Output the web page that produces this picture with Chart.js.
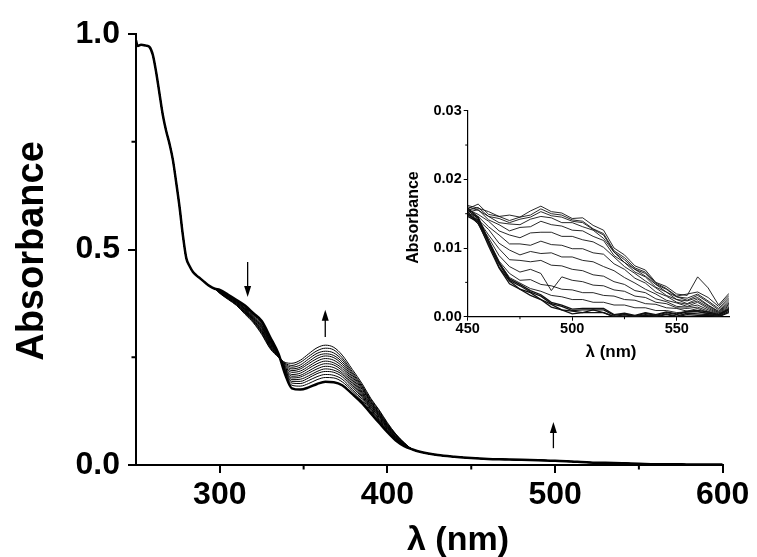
<!DOCTYPE html>
<html>
  <head>
    <title>Absorbance spectra</title>
    <script src="https://cdn.jsdelivr.net/npm/chart.js@4.4.0/dist/chart.umd.min.js"></script>
    <style>
      html, body { margin: 0; padding: 0; background: #fff; }
      #wrap { position: relative; width: 757px; height: 557px; }
      #mainChart { position: absolute; left: 0; top: 0; }
      #insetChart { position: absolute; left: 400px; top: 95px; }
    </style>
  </head>

  <body>
    <div id="wrap">
      <canvas id="mainChart" width="757" height="557"></canvas>
      <canvas id="insetChart" width="345" height="275"></canvas>
    </div>
    <script>
      // main spectra: shared start, per-spectrum middle, shared tail
      const headNm = [250, 251, 253, 256, 258, 260, 262, 264, 266, 268, 270, 272, 274, 276, 278, 280, 282, 284, 286, 288, 291, 294, 297];
      const headAbs = [0.985, 0.972, 0.975, 0.973, 0.970, 0.952, 0.912, 0.862, 0.812, 0.775, 0.745, 0.708, 0.655, 0.598, 0.532, 0.480, 0.461, 0.448, 0.440, 0.434, 0.424, 0.415, 0.409];

      const midNm = [300, 305, 310, 315, 320, 325, 330, 335, 339, 343, 348, 353, 358, 363, 368, 373, 379, 385, 390, 395, 400, 405, 410];
      const spec01 = [0.406,0.395,0.383,0.370,0.352,0.334,0.297,0.258,0.210,0.178,0.175,0.180,0.188,0.193,0.192,0.185,0.165,0.143,0.120,0.098,0.076,0.057,0.044];
      const spec02 = [0.405,0.394,0.381,0.368,0.349,0.330,0.294,0.257,0.213,0.185,0.183,0.189,0.198,0.203,0.202,0.193,0.172,0.148,0.124,0.102,0.079,0.059,0.045];
      const spec03 = [0.404,0.393,0.380,0.366,0.348,0.328,0.292,0.256,0.216,0.190,0.189,0.196,0.205,0.210,0.208,0.199,0.176,0.152,0.127,0.104,0.080,0.060,0.046];
      const spec04 = [0.404,0.392,0.379,0.364,0.346,0.325,0.289,0.256,0.218,0.194,0.194,0.202,0.212,0.217,0.215,0.205,0.181,0.156,0.130,0.106,0.082,0.061,0.046];
      const spec05 = [0.403,0.391,0.378,0.363,0.344,0.323,0.288,0.255,0.220,0.198,0.199,0.207,0.217,0.223,0.220,0.210,0.185,0.159,0.132,0.108,0.084,0.062,0.047];
      const spec06 = [0.403,0.390,0.378,0.362,0.343,0.321,0.286,0.255,0.222,0.202,0.204,0.213,0.223,0.229,0.226,0.214,0.189,0.162,0.135,0.111,0.085,0.063,0.047];
      const spec07 = [0.402,0.390,0.377,0.360,0.341,0.319,0.284,0.254,0.224,0.206,0.208,0.218,0.229,0.235,0.232,0.219,0.193,0.165,0.137,0.113,0.087,0.064,0.048];
      const spec08 = [0.402,0.389,0.376,0.359,0.340,0.317,0.282,0.254,0.226,0.210,0.213,0.224,0.235,0.241,0.237,0.224,0.197,0.168,0.140,0.115,0.088,0.065,0.048];
      const spec09 = [0.401,0.388,0.375,0.357,0.338,0.314,0.280,0.253,0.228,0.215,0.218,0.229,0.241,0.247,0.243,0.229,0.201,0.171,0.142,0.117,0.090,0.066,0.049];
      const spec10 = [0.400,0.387,0.374,0.356,0.337,0.312,0.278,0.252,0.230,0.219,0.223,0.235,0.247,0.253,0.249,0.234,0.205,0.175,0.145,0.119,0.091,0.068,0.050];
      const spec11 = [0.400,0.387,0.373,0.355,0.335,0.310,0.276,0.252,0.232,0.223,0.227,0.240,0.253,0.258,0.254,0.239,0.209,0.178,0.147,0.121,0.093,0.069,0.050];
      const spec12 = [0.399,0.386,0.372,0.353,0.334,0.308,0.274,0.251,0.234,0.227,0.232,0.246,0.259,0.264,0.260,0.244,0.213,0.181,0.149,0.123,0.094,0.070,0.051];
      const spec13 = [0.399,0.385,0.371,0.352,0.332,0.305,0.272,0.251,0.236,0.231,0.238,0.252,0.265,0.271,0.267,0.249,0.217,0.184,0.152,0.126,0.096,0.071,0.051];
      const spec14 = [0.398,0.384,0.370,0.350,0.330,0.303,0.270,0.250,0.238,0.236,0.243,0.258,0.272,0.278,0.273,0.255,0.222,0.188,0.155,0.128,0.098,0.072,0.052];

      const tailNm = [415, 420, 430, 440, 450, 460, 470, 480, 490, 500, 510, 520, 530, 540, 550, 560, 570, 580, 590, 600];
      const tailAbs = [0.036, 0.030, 0.023, 0.019, 0.016, 0.014, 0.013, 0.012, 0.011, 0.010, 0.008, 0.006, 0.005, 0.004, 0.003, 0.002, 0.002, 0.001, 0.001, 0.001];

      // inset spectra, 450-575 nm
      const insetNm = [450,455,460,465,470,475,480,485,490,495,500,505,510,515,520,525,530,535,540,545,550,555,560,565,570,575];
      const insT1 = [0.0162,0.0158,0.0153,0.0146,0.0148,0.0145,0.0154,0.0161,0.0153,0.0151,0.0143,0.0144,0.0133,0.0126,0.0100,0.0090,0.0074,0.0068,0.0050,0.0044,0.0033,0.0031,0.0058,0.0042,0.0017,0.0034];
      const insT2 = [0.0157,0.0164,0.0149,0.0146,0.0140,0.0145,0.0148,0.0157,0.0150,0.0148,0.0141,0.0139,0.0128,0.0121,0.0096,0.0086,0.0071,0.0065,0.0049,0.0041,0.0030,0.0033,0.0036,0.0028,0.0015,0.0031];
      const insT3 = [0.0155,0.0159,0.0146,0.0143,0.0137,0.0142,0.0145,0.0153,0.0147,0.0145,0.0139,0.0137,0.0127,0.0119,0.0094,0.0083,0.0069,0.0063,0.0047,0.0040,0.0029,0.0027,0.0033,0.0023,0.0012,0.0028];
      const insT4 = [0.0160,0.0155,0.0146,0.0137,0.0135,0.0134,0.0142,0.0146,0.0144,0.0137,0.0137,0.0131,0.0126,0.0114,0.0094,0.0079,0.0069,0.0059,0.0047,0.0036,0.0029,0.0024,0.0031,0.0021,0.0010,0.0025];
      const insT5 = [0.0152,0.0156,0.0141,0.0134,0.0125,0.0130,0.0131,0.0139,0.0134,0.0132,0.0126,0.0125,0.0117,0.0111,0.0089,0.0079,0.0065,0.0058,0.0043,0.0036,0.0025,0.0023,0.0028,0.0017,0.0008,0.0022];
      const insT6 = [0.0156,0.0149,0.0139,0.0125,0.0119,0.0115,0.0122,0.0123,0.0123,0.0117,0.0117,0.0112,0.0109,0.0101,0.0087,0.0073,0.0063,0.0052,0.0042,0.0031,0.0025,0.0019,0.0026,0.0016,0.0007,0.0020];
      const insM1 = [0.0150,0.0146,0.0131,0.0119,0.0106,0.0106,0.0104,0.0110,0.0105,0.0104,0.0099,0.0099,0.0093,0.0091,0.0077,0.0069,0.0056,0.0049,0.0036,0.0030,0.0021,0.0018,0.0023,0.0014,0.0006,0.0018];
      const insM2 = [0.0152,0.0141,0.0127,0.0107,0.0097,0.0090,0.0095,0.0092,0.0093,0.0087,0.0087,0.0082,0.0080,0.0073,0.0067,0.0057,0.0049,0.0040,0.0033,0.0024,0.0020,0.0015,0.0021,0.0012,0.0005,0.0016];
      const insM3 = [0.0148,0.0141,0.0119,0.0099,0.0083,0.0082,0.0080,0.0082,0.0075,0.0074,0.0069,0.0067,0.0061,0.0059,0.0051,0.0047,0.0038,0.0035,0.0026,0.0022,0.0015,0.0014,0.0017,0.0010,0.0004,0.0014];
      const insM4 = [0.0150,0.0137,0.0115,0.0089,0.0073,0.0065,0.0069,0.0063,0.0038,0.0058,0.0053,0.0051,0.0046,0.0045,0.0039,0.0037,0.0030,0.0028,0.0021,0.0019,0.0013,0.0012,0.0014,0.0008,0.0003,0.0012];
      const insM5 = [0.0153,0.0135,0.0111,0.0081,0.0063,0.0053,0.0054,0.0047,0.0045,0.0040,0.0039,0.0035,0.0035,0.0031,0.0030,0.0025,0.0024,0.0019,0.0018,0.0013,0.0012,0.0008,0.0012,0.0006,0.0002,0.0011];
      const insM6 = [0.0149,0.0135,0.0105,0.0079,0.0057,0.0049,0.0041,0.0037,0.0031,0.0029,0.0025,0.0025,0.0021,0.0021,0.0017,0.0017,0.0013,0.0013,0.0009,0.0009,0.0006,0.0007,0.0008,0.0004,0.0001,0.0010];
      const insB1 = [0.0155,0.0143,0.0109,0.0077,0.0053,0.0045,0.0036,0.0030,0.0019,0.0015,0.0009,0.0010,0.0010,0.0010,0.0002,0.0004,0.0001,0.0005,0.0002,0.0006,0.0003,0.0007,0.0007,0.0005,0.0002,0.0010];
      const insB2 = [0.0150,0.0139,0.0108,0.0072,0.0052,0.0040,0.0035,0.0025,0.0018,0.0010,0.0008,0.0006,0.0010,0.0006,0.0000,0.0003,0.0000,0.0003,0.0001,0.0004,0.0001,0.0005,0.0004,0.0003,0.0000,0.0008];
      const insB3 = [0.0146,0.0138,0.0103,0.0071,0.0048,0.0040,0.0031,0.0025,0.0014,0.0010,0.0004,0.0006,0.0006,0.0006,0.0000,0.0001,0.0000,0.0002,0.0000,0.0003,0.0000,0.0003,0.0002,0.0002,0.0000,0.0006];
      const insB4 = [0.0158,0.0145,0.0111,0.0079,0.0055,0.0047,0.0038,0.0032,0.0021,0.0017,0.0011,0.0012,0.0012,0.0012,0.0003,0.0005,0.0002,0.0006,0.0003,0.0007,0.0004,0.0008,0.0009,0.0007,0.0003,0.0012];

      // minor tick positions and arrows (wavelength, absorbance from -> to)
      const mainMinorX = [350, 450, 550];
      const mainMinorY = [0.25, 0.75];
      const insetMinorX = [475, 525];
      const insetMinorY = [0.005, 0.015, 0.025];
      const arrows = [
        { nm: 316.6, from: 0.471, to: 0.390 },
        { nm: 362.9, from: 0.297, to: 0.360 },
        { nm: 499, from: 0.039, to: 0.100 },
      ];

      const FONT = '"Liberation Sans", Arial, sans-serif';

      const makeDecor = cfg => ({
        id: 'decor',
        afterDraw(chart) {
          const ctx = chart.ctx, xs = chart.scales.x, ys = chart.scales.y;
          ctx.save();
          ctx.strokeStyle = '#000';
          ctx.fillStyle = '#000';
          ctx.lineWidth = cfg.tickWidth;
          ctx.beginPath();
          cfg.minorX.forEach(v => {
            const px = xs.getPixelForValue(v);
            ctx.moveTo(px, ys.bottom);
            ctx.lineTo(px, ys.bottom + cfg.minorLen);
          });
          cfg.minorY.forEach(v => {
            const py = ys.getPixelForValue(v);
            ctx.moveTo(xs.left, py);
            ctx.lineTo(xs.left - cfg.minorLen, py);
          });
          ctx.stroke();

          (cfg.arrows || []).forEach(a => {
            const px = xs.getPixelForValue(a.nm);
            const y0 = ys.getPixelForValue(a.from), y1 = ys.getPixelForValue(a.to);
            const dir = y1 > y0 ? 1 : -1;
            ctx.lineWidth = 1.3;
            ctx.beginPath();
            ctx.moveTo(px, y0);
            ctx.lineTo(px, y1 - dir * 8);
            ctx.stroke();
            ctx.beginPath();
            ctx.moveTo(px, y1);
            ctx.lineTo(px - 3.5, y1 - dir * 11);
            ctx.lineTo(px + 3.5, y1 - dir * 11);
            ctx.closePath();
            ctx.fill();
          });

          cfg.titles.forEach(t => {
            ctx.save();
            ctx.font = t.font;
            ctx.textAlign = 'center';
            ctx.textBaseline = 'alphabetic';
            ctx.translate(t.x, t.y);
            if (t.vertical) ctx.rotate(-Math.PI / 2);
            ctx.fillText(t.text, 0, 0);
            ctx.restore();
          });
          ctx.restore();
        }
      });

      const toPoints = (nm, abs) => nm.map((x, k) => ({ x: x, y: abs[k] }));

      const allNm = headNm.concat(midNm, tailNm);
      const mainSpectra = [spec01, spec02, spec03, spec04, spec05, spec06, spec07, spec08, spec09, spec10, spec11, spec12, spec13, spec14];

      new Chart(document.getElementById('mainChart'), {
        type: 'line',
        data: {
          datasets: mainSpectra.map((s, i) => ({
            data: toPoints(allNm, headAbs.concat(s, tailAbs)),
            borderColor: '#000',
            borderWidth: i === 0 ? 2.5 : 1,
            pointRadius: 0,
            cubicInterpolationMode: 'monotone',
            fill: false,
          })),
        },
        options: {
          responsive: false,
          animation: false,
          layout: { padding: { left: 0, top: 34, right: 34.3, bottom: 0 } },
          plugins: { legend: { display: false }, tooltip: { enabled: false } },
          scales: {
            x: {
              type: 'linear', min: 250, max: 600,
              afterFit: s => { s.height = 92; },
              ticks: { stepSize: 100, includeBounds: false, color: '#000', padding: 3, maxRotation: 0, autoSkip: false,
                       font: { family: FONT, size: 32, weight: 'bold' } },
              grid: { drawOnChartArea: false, tickLength: 8, color: '#000', lineWidth: 2 },
              border: { color: '#000', width: 2 },
            },
            y: {
              type: 'linear', min: 0, max: 1,
              afterFit: s => { s.width = 136; },
              ticks: { stepSize: 0.5, color: '#000', padding: 8, callback: v => v.toFixed(1),
                       font: { family: FONT, size: 32, weight: 'bold' } },
              grid: { drawOnChartArea: false, tickLength: 8, color: '#000', lineWidth: 2 },
              border: { color: '#000', width: 2 },
            },
          },
        },
        plugins: [makeDecor({
          tickWidth: 2, minorLen: 4.5, minorX: mainMinorX, minorY: mainMinorY, arrows: arrows,
          titles: [
            { text: 'λ (nm)', font: 'bold 34px ' + FONT, x: 458, y: 550 },
            { text: 'Absorbance', font: 'bold 38px ' + FONT, x: 43, y: 251, vertical: true },
          ],
        })],
      });

      const insetSpectra = [insT1, insT2, insT3, insT4, insT5, insT6, insM1, insM2, insM3, insM4, insM5, insM6, insB1, insB2, insB3, insB4];

      new Chart(document.getElementById('insetChart'), {
        type: 'line',
        data: {
          datasets: insetSpectra.map((s, i) => ({
            data: toPoints(insetNm, s),
            borderColor: '#111',
            borderWidth: i >= 12 ? 1.3 : 0.9,
            pointRadius: 0,
            tension: 0,
            fill: false,
          })),
        },
        options: {
          responsive: false,
          animation: false,
          layout: { padding: { left: 0, top: 15.7, right: 16, bottom: 0 } },
          plugins: { legend: { display: false }, tooltip: { enabled: false } },
          scales: {
            x: {
              type: 'linear', min: 450, max: 575,
              afterFit: s => { s.height = 53.3; },
              ticks: { stepSize: 50, includeBounds: false, color: '#000', padding: 0, maxRotation: 0, autoSkip: false,
                       font: { family: FONT, size: 14.5, weight: 'bold' } },
              grid: { drawOnChartArea: false, tickLength: 4, color: '#000', lineWidth: 1 },
              border: { color: '#000', width: 1.2 },
            },
            y: {
              type: 'linear', min: 0, max: 0.03,
              afterFit: s => { s.width = 67.7; },
              ticks: { stepSize: 0.01, color: '#000', padding: 2, callback: v => v.toFixed(2),
                       font: { family: FONT, size: 14.5, weight: 'bold' } },
              grid: { drawOnChartArea: false, tickLength: 4, color: '#000', lineWidth: 1 },
              border: { color: '#000', width: 1.2 },
            },
          },
        },
        plugins: [makeDecor({
          tickWidth: 1, minorLen: 2.5, minorX: insetMinorX, minorY: insetMinorY,
          titles: [
            { text: 'λ (nm)', font: 'bold 17px ' + FONT, x: 211, y: 262 },
            { text: 'Absorbance', font: 'bold 16px ' + FONT, x: 18, y: 122.5, vertical: true },
          ],
        })],
      });
    </script>
  </body>
</html>
